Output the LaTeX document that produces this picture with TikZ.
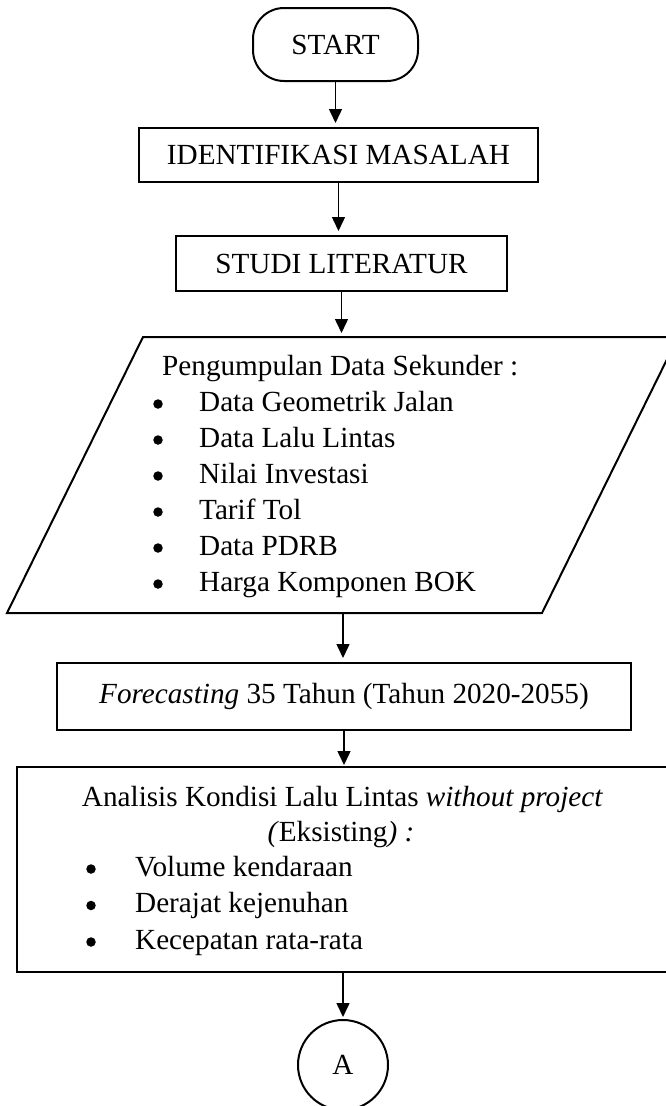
\documentclass[tikz,border=0pt]{standalone}
\usepackage{fontspec}
\setmainfont{Liberation Serif}
\usepackage{tikz}
\usetikzlibrary{arrows.meta}
\tikzset{
    >={Triangle[width=13pt,length=14pt]},
    shapeline/.style={line width=2pt, line join=miter},
    procbox/.style={draw, shapeline, rectangle, inner sep=0pt},
    startbox/.style={draw, shapeline, rectangle, rounded corners=31pt, inner sep=0pt},
    flow/.style={->, line width=1.5pt, shorten >=4pt},
    item/.style={anchor=base west, inner sep=0pt},
    bullet/.style={anchor=base, inner sep=0pt},
    dot/.style={circle, fill, inner sep=0pt, minimum size=9.5pt}
}

\begin{document}
\begin{tikzpicture}[x=1pt, y=-1pt, font=\fontsize{29.2pt}{36pt}\selectfont]

    \useasboundingbox (0,0) rectangle (665,1106);

    \node[startbox, minimum width=165pt, minimum height=73pt] (start) at (335.5,44.5) {START};
    \node[procbox, minimum width=399pt, minimum height=54pt] (ident) at (338.5,155) {IDENTIFIKASI MASALAH};
    \node[procbox, minimum width=331pt, minimum height=55pt] (studi) at (341.5,263.5) {STUDI LITERATUR};

    % data sekunder (parallelogram)
    \draw[shapeline] (143,337) -- (678,337) -- (542,613) -- (7,613) -- cycle;
    \coordinate (dataN) at (341.5,337);
    \coordinate (dataS) at (343,613);
    \node[item] (datahead) at (162,375) {Pengumpulan Data Sekunder :};
    \foreach \txt [count=\i] in {Data Geometrik Jalan, Data Lalu Lintas, Nilai Investasi, Tarif Tol, Data PDRB, Harga Komponen BOK}{
        \node[dot] (datab\i) at (158,{375+36*\i-7}) {};
        \node[item] (data\i) at (199,{375+36*\i}) {\txt};
    }

    \node[procbox, minimum width=574pt, minimum height=67pt] (fore) at (344,696.5) {\textit{Forecasting} 35 Tahun (Tahun 2020-2055)};

    % analisis kondisi
    \node[procbox, minimum width=652pt, minimum height=205pt] (anal) at (343,869.5) {};
    \node[bullet] (analhead) at (342.5,806) {Analisis Kondisi Lalu Lintas \textit{without project}};
    \node[bullet] (analsub) at (341,841) {\textit{(}Eksisting\textit{) :}};
    \foreach \txt [count=\i] in {Volume kendaraan, Derajat kejenuhan, Kecepatan rata-rata}{
        \node[dot] (analb\i) at (91,{876+36.5*(\i-1)-7}) {};
        \node[item] (anal\i) at (135,{876+36.5*(\i-1)}) {\txt};
    }

    \node[draw, shapeline, circle, minimum size=90pt, inner sep=0pt] (conA) at (343,1065) {A};

    % connectors
    \draw[flow] (start.south) -- (start.south |- ident.north);
    \draw[flow] (ident.south) -- (ident.south |- studi.north);
    \draw[flow] (studi.south) -- (dataN);
    \draw[flow] (dataS) -- (dataS |- fore.north);
    \draw[flow, shorten >=1pt] (fore.south) -- (fore.south |- anal.north);
    \draw[flow, shorten >=2pt] (anal.south) -- (conA.north);

\end{tikzpicture}
\end{document}
